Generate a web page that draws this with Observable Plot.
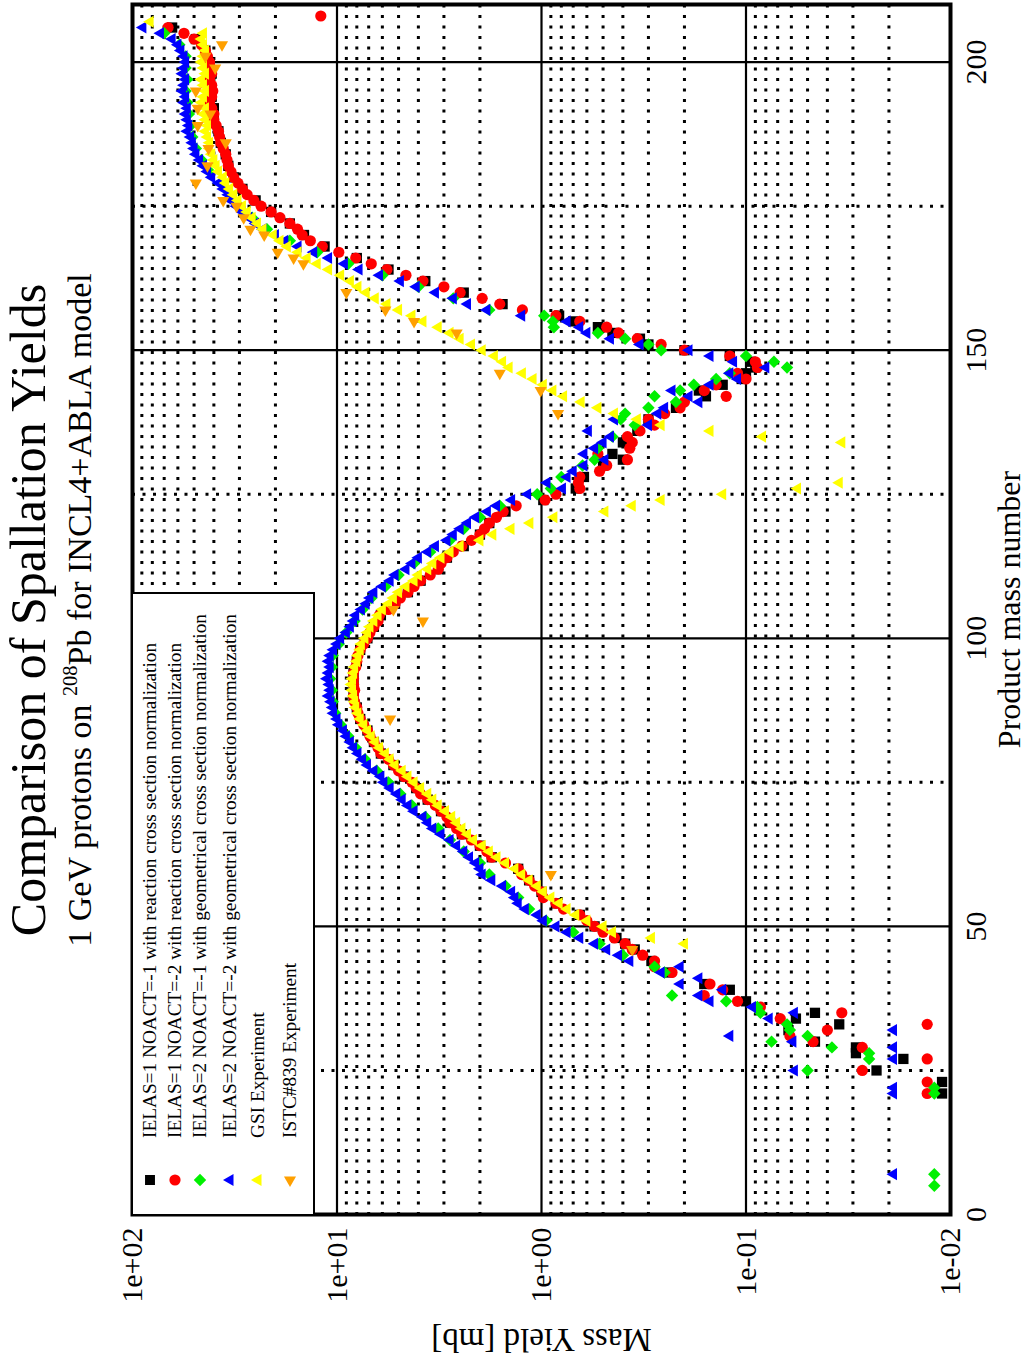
<!DOCTYPE html>
<html>
<head>
<meta charset="utf-8">
<script src="https://cdn.jsdelivr.net/npm/d3@7"></script>
<script src="https://cdn.jsdelivr.net/npm/@observablehq/plot@0.6"></script>
<style>
html, body { margin: 0; padding: 0; background: #fff; overflow: hidden; width: 1029px; height: 1359px; }
#land { position: absolute; left: 0; top: 0; width: 1359px; height: 1029px; transform-origin: 0 0;
  transform: translateY(1359px) rotate(-90deg); background: #fff;
  font-family: 'Liberation Serif', 'Times New Roman', serif; color: #000; }
#title { position: absolute; left: 144px; width: 1210px; top: 3px; text-align: center; font-size: 50px; line-height: 50px; white-space: nowrap; }
#subtitle { position: absolute; left: 144px; width: 1210px; top: 63px; text-align: center; font-size: 34px; line-height: 34px; white-space: nowrap; }
#subtitle sup { font-size: 0.6em; position: relative; top: -0.15em; vertical-align: top; line-height: 1; }
#chart { position: absolute; left: 0; top: 110px; width: 1359px; height: 919px; }
#legend { position: absolute; left: 143px; top: 131px; width: 624px; height: 184px; box-sizing: border-box; border: 2px solid #000; background: #fff; }
.lrow { position: absolute; left: 0; width: 600px; height: 20px; }
.lsym { position: absolute; left: 26px; top: -8px; width: 16px; height: 16px; }
.ltxt { position: absolute; left: 76px; top: -10px; font-size: 19.3px; line-height: 20px; white-space: nowrap; }
</style>
</head>
<body>
<div id="land">
  <div id="title">Comparison of Spallation Yields</div>
  <div id="subtitle">1 GeV protons on <sup>208</sup>Pb for INCL4+ABLA model</div>
  <div id="chart"></div>
  <div id="legend"></div>
</div>
<script>
// ---- axis / grid values ----
const massTicks = [0, 50, 100, 150, 200];
const massMajorGrid = [50, 100, 150, 200];
const massMinorGrid = [25, 75, 125, 175];
const yieldTicks = [0.01, 0.1, 1, 10, 100];
const yieldTickLabels = ["1e-02", "1e-01", "1e+00", "1e+01", "1e+02"];
const yieldMajorGrid = [0.1, 1, 10];
const yieldMinorGrid = [0.02, 0.03, 0.04, 0.05, 0.06, 0.07, 0.08, 0.09,
  0.2, 0.3, 0.4, 0.5, 0.6, 0.7, 0.8, 0.9, 2, 3, 4, 5, 6, 7, 8, 9,
  20, 30, 40, 50, 60, 70, 80, 90];
const xLabel = "Product mass number";
const yLabel = "Mass Yield [mb]";

// ---- series: [product mass number, mass yield in mb] ----
const ielas1noact1 = [[206,64],[204,49],[202,44],[200,42],[198,41],[196,42],[194,41],[192,40],[190,40],[188,38],[186,37],[184,35],[182,34],[180,32],[178,29],[176,25],[174,21],[172,17],[170,14.5],[168,11.5],[166,8],[164,5.6],[162,3.7],[160,2.4],[158,1.55],[156,0.82],[155,0.7],[154,0.53],[153,0.45],[152,0.33],[151,0.3],[150,0.2],[149,0.12],[148,0.095],[147,0.09],[146,0.1],
[145,0.105],[144,0.13],[143,0.17],[142,0.157],[140,0.22],[138,0.3],[136,0.34],[134,0.4],[132,0.45],[131,0.4],[130,0.5],[128,0.62],[126,0.68],[124,0.98],[122,1.5],[120,1.8],[118,2.0],[116,2.4],[114,2.9],[112,3.2],[110,3.9],[108,4.5],[106,5.2],[104,6.1],[102,6.6],[100,7.1],[98,7.7],[96,8.0],[94,8.3],[92,8.3],[90,8.3],[88,8.0],[86,7.7],[84,7.1],[82,6.6],[80,6.1],[78,5.3],[76,4.7],[74,4.1],[72,3.6],[70,3.1],[68,2.8],[66,2.45],[64,2.0],[62,1.75],[60,1.3],[58,1.15],[56,1.0],[54,0.85],[52,0.65],[50,0.55],[48,0.43],[47,0.39],[46,0.35],[44,0.29],[42,0.24],[40,0.16],[39,0.12],[37,0.1],[35,0.046],[34,0.057],[33,0.035],[32,0.062],[30,0.046],[29,0.029],[28,0.029],[27,0.017],[25,0.023],[23,0.011],[21,0.011]];

const ielas1noact2 = [[208,12],[206,67],[205,56],[204,50],[203,46],[202,44],[201,43],[200,42],[199,41.5],[198,41],[197,42],[196,41],[195,40.5],[194,41],[193,42],[192,41],[191,40],[190,40],[189,39],[188,38],[187,37.5],[186,37],[185,36],[184,35],[183,34.5],[182,34],[181,33],[180,32],[179,30.5],[178,29],[177,27.5],[176,25.5],[175,23.5],[174,21],[173,19],[172,17],[171,15.6],[170,14.8],[169,13.5],[168,11.8],[167,9.8],[166,8.1],[165,6.8],[164,5.7],[163,4.6],[162,3.8],[161,3.0],[160,2.5],[159,1.95],[158,1.6],[157,1.24],[156,0.85],[155,0.65],[154,0.48],[153,0.42],[152,0.34],[151,0.26],[150,0.2],[149,0.12],[148,0.09],[147,0.088],[146,0.11],[145,0.1],[144,0.14],[143,0.16],[142,0.125],[141,0.2],[140,0.21],[139,0.25],[138,0.3],[137,0.28],[136,0.33],[135,0.38],[134,0.36],[133,0.37],[132,0.53],[131,0.38],[130,0.48],[129,0.52],[128,0.65],[127,0.66],[126,0.65],[125,0.85],[124,0.96],[123,1.33],[122,1.54],[121,1.66],[120,1.8],[119,1.9],[118,2.0],[117,2.2],[116,2.45],[115,2.7],[114,2.9],[113,3.1],[112,3.2],[111,3.5],[110,3.9],[109,4.2],[108,4.5],[107,4.9],[106,5.2],[105,5.6],[104,6.2],[103,6.3],[102,6.6],[101,6.9],[100,7.1],[99,7.4],[98,7.7],[97,7.9],[96,8.0],[95,8.1],[94,8.3],[93,8.3],[92,8.3],[91,8.2],[90,8.3],[89,8.2],[88,8.0],[87,7.9],[86,7.7],[85,7.4],[84,7.1],[83,6.9],[82,6.6],[81,6.3],[80,6.1],[79,5.6],[78,5.3],[77,5.0],[76,4.7],[75,4.3],[74,4.1],[73,3.9],[72,3.6],[71,3.3],[70,3.1],[69,2.9],[68,2.8],[67,2.6],[66,2.45],[65,2.2],[64,2.0],[63,1.85],[62,1.75],[61,1.5],[60,1.3],[59,1.25],[58,1.15],[57,1.08],[56,1.0],[55,0.98],[54,0.85],[53,0.78],[52,0.65],[51,0.6],[50,0.55],[49,0.5],[48,0.44],[47,0.39],[46,0.36],[45,0.32],[44,0.28],[43,0.28],[42,0.23],[40,0.15],[39,0.13],[38,0.16],[37,0.11],[36,0.085],[35,0.034],[34,0.068],[33,0.013],[32,0.04],[31,0.061],[30,0.047],[29,0.027],[27,0.013],[25,0.027],[23,0.013],[21,0.013]];

const ielas2noact1 = [[205,70],[203,59],[201,55],[199,55],[197,54],[195,55],[193,54],[191,53],[189,52],[187,51],[185,49],[183,46],[181,42],[179,37],[177,33],[175,30],[173,26],[171,22],[169,17],[167,12.5],[165,8.8],[163,6.0],[161,4.0],[159,2.7],[157,1.8],[156,0.97],[155,0.88],[154,0.87],[153,0.53],[152,0.39],[151,0.3],[150,0.26],[149,0.1],[148,0.073],[147,0.063],[146,0.12],[145,0.14],[144,0.18],[143,0.21],[142,0.28],[141,0.22],[140,0.3],[139,0.39],[138,0.41],[137,0.35],[135,0.45],[133,0.53],[131,0.55],[130,0.63],[128,0.8],[126,0.9],[125,1.05],[123,1.6],[121,2.0],[119,2.4],[117,2.8],[115,3.5],[113,4.2],[111,5.0],[109,5.8],[107,6.8],[105,7.5],[103,8.2],[101,9.0],[99,9.8],[97,10.5],[95,10.6],[93,10.8],[91,10.6],[89,10.5],[87,10.2],[85,9.6],[83,8.8],[81,8.1],[79,7.3],[77,6.4],[75,5.6],[73,4.9],[71,4.3],[69,3.7],[67,3.2],[65,2.8],[63,2.4],[61,2.0],[59,1.8],[57,1.5],[55,1.3],[53,1.15],[51,0.95],[49,0.7],[47,0.52],[45,0.4],[43,0.28],[42,0.25],[38,0.23],[37,0.125],[36,0.088],[35,0.085],[33,0.063],[32,0.061],[31,0.05],[30,0.075],[29,0.038],[28,0.025],[27,0.025],[25,0.05],[22,0.012],[21,0.012],[7,0.012],[5,0.012]];

const ielas2noact2 = [[206,89],[205,73],[204,64],[203,60],[202,58],[201,56],[200,55],[199,56],[198,57],[197,55],[196,56],[195,57],[194,55],[193,56],[192,54],[191,55],[190,54],[189,53],[188,54],[187,52],[186,51],[185,50],[184,49],[183,47],[182,45],[181,43],[180,41],[179,38],[178,36],[177,34],[176,33],[175,31],[174,29],[173,27],[172,25],[171,23],[170,20],[169,18],[168,15.5],[167,13],[166,11],[165,9.2],[164,7.8],[163,6.2],[162,4.9],[161,4.1],[160,3.3],[159,2.7],[158,2.3],[157,1.85],[156,1.25],[155,0.75],[154,0.65],[153,0.6],[152,0.46],[151,0.33],[150,0.19],[149,0.15],[148,0.115],[147,0.08],[146,0.12],[145,0.11],[144,0.15],[143,0.23],[142,0.19],[141,0.17],[140,0.25],[139,0.27],[138,0.44],[137,0.3],[136,0.59],[135,0.46],[134,0.5],[133,0.55],[132,0.62],[131,0.49],[130,0.62],[129,0.7],[128,0.75],[127,0.94],[126,0.79],[125,1.17],[124,1.4],[123,1.66],[122,1.84],[121,2.1],[120,2.3],[119,2.5],[118,2.7],[117,2.9],[116,3.3],[115,3.6],[114,4.0],[113,4.3],[112,4.6],[111,5.2],[110,5.5],[109,6.0],[108,6.6],[107,6.9],[106,7.2],[105,7.6],[104,8.1],[103,8.3],[102,8.6],[101,9.0],[100,9.6],[99,10.0],[98,10.4],[97,10.8],[96,11.0],[95,10.8],[94,11.0],[93,11.2],[92,10.9],[91,10.8],[90,11.0],[89,10.7],[88,10.5],[87,10.4],[86,10.0],[85,9.8],[84,9.3],[83,9.0],[82,8.6],[81,8.3],[80,7.9],[79,7.5],[78,7.1],[77,6.6],[76,6.1],[75,5.9],[74,5.5],[73,5.1],[72,4.8],[71,4.5],[70,4.2],[69,3.8],[68,3.6],[67,3.4],[66,3.1],[65,2.8],[64,2.6],[63,2.4],[62,2.25],[61,2.1],[60,2.0],[59,1.95],[58,1.75],[57,1.55],[56,1.4],[55,1.35],[54,1.3],[53,1.2],[52,1.05],[51,0.98],[50,0.85],[49,0.75],[48,0.65],[47,0.55],[46,0.48],[45,0.42],[44,0.37],[43,0.21],[42,0.26],[41,0.17],[40,0.21],[39,0.13],[38,0.17],[37,0.15],[36,0.093],[35,0.058],[34,0.077],[32,0.019],[31,0.12],[30,0.059],[29,0.019],[27,0.019],[25,0.058],[22,0.019],[21,0.019],[7,0.019]];

const gsiExperiment = [[207,82],[205,45],[204,46],[203,45],[202,44],[201,45],[200,46],[199,45],[198,44],[197,46],[196,45],[195,44],[194,45],[193,46],[192,44],[191,45],[190,44],[189,43],[188,44],[187,43],[186,42],[185,42],[184,41],[183,40],[182,39],[181,38],[180,36],[179,35],[178,33.5],[177,32],[176,30.5],[175,29],[174,27.5],[173,26],[172,24.5],[171,23],[170,20.5],[169,19],[168,17.5],[167,15.5],[166,14],[165,12.5],[164,11],[163,9.6],[162,8.6],[161,7.9],[160,7.2],[159,6.5],[158,5.7],[157,5.0],[156,4.3],[155,3.8],[154,3.2],[153,2.8],[152,2.5],[151,2.2],[150,1.95],[149,1.7],[148,1.55],[147,1.44],[146,1.24],[145,1.1],[144,0.98],[143,0.88],[142,0.78],[141,0.64],[140,0.53],[139,0.44],[138,0.34],[137,0.26],[136,0.15],[135,0.083],[134,0.034],
[127,0.035],[126,0.056],[125,0.13],[124,0.26],[123,0.36],[122,0.49],[121,0.87],[120,1.14],[119,1.41],[118,1.73],[117,2.0],[116,2.5],[115,2.8],[114,3.1],[113,3.4],[112,3.6],[111,4.0],[110,4.2],[109,4.6],[108,5.0],[107,5.3],[106,5.6],[105,6.0],[104,6.3],[103,6.6],[102,6.9],[101,7.1],[100,7.3],[99,7.6],[98,7.7],[97,7.9],[96,8.0],[95,8.2],[94,8.3],[93,8.4],[92,8.5],[91,8.4],[90,8.3],[89,8.2],[88,8.1],[87,7.9],[86,7.7],[85,7.4],[84,7.1],[83,6.8],[82,6.5],[81,6.2],[80,5.8],[79,5.5],[78,5.2],[77,4.8],[76,4.5],[75,4.2],[74,3.9],[73,3.6],[72,3.4],[71,3.2],[70,2.95],[69,2.75],[68,2.6],[67,2.45],[66,2.3],[65,2.15],[64,1.95],[63,1.8],[62,1.65],[61,1.5],[60,1.35],[59,1.25],[58,1.15],[57,1.05],[56,0.98],[55,0.9],[54,0.82],[53,0.75],[52,0.68],[51,0.6],[50,0.5],[49,0.45],[48,0.29],[47,0.2]];

const istcExperiment = [[203,36.5],[201,44],[199,39.4],[195,49],[192,48],[191,41.6],[189,48],[186,35],[185,42.5],[182,43],[179,49],[176,36],[175,31],[173,28.6],[171,26.5],[170,22.7],[167,19.5],[166,16.3],[165,14.6],[160,9],[157,5.8],[155,4.2],[153,2.6],[146,1.6],[143,1.01],[139,0.83],[105,5.3],[103,3.8],[86,5.5],[59,0.9],[46,0.36]];

const seriesNames = [
  "IELAS=1 NOACT=-1 with reaction cross section normalization",
  "IELAS=1 NOACT=-2 with reaction cross section normalization",
  "IELAS=2 NOACT=-1 with geometrical cross section normalization",
  "IELAS=2 NOACT=-2 with geometrical cross section normalization",
  "GSI Experiment",
  "ISTC#839 Experiment"
];
const seriesColors = ["#000000", "#ff0000", "#00f000", "#0000ff", "#ffff00", "#ffa000"];

// custom symbols (landscape orientation; the whole figure is turned a quarter turn)
const triUp = { draw(ctx, size) { const R = Math.sqrt(size / Math.PI) * 1.25;
  ctx.moveTo(0, -R); ctx.lineTo(R * 0.866, R * 0.5); ctx.lineTo(-R * 0.866, R * 0.5); ctx.closePath(); } };
const triLeft = { draw(ctx, size) { const R = Math.sqrt(size / Math.PI) * 1.25;
  ctx.moveTo(-R, 0); ctx.lineTo(R * 0.5, -R * 0.866); ctx.lineTo(R * 0.5, R * 0.866); ctx.closePath(); } };
const seriesSymbols = ["square", "circle", "diamond2", triUp, triUp, triLeft];
const seriesData = [ielas1noact1, ielas1noact2, ielas2noact1, ielas2noact2, gsiExperiment, istcExperiment];

const labelFor = new Map(yieldTicks.map((v, i) => [v, yieldTickLabels[i]]));

const plot = Plot.plot({
  width: 1359,
  height: 919,
  marginLeft: 144,
  marginRight: 5,
  marginTop: 22,
  marginBottom: 79,
  style: { fontFamily: "'Liberation Serif', 'Times New Roman', serif", fontSize: "30px", color: "#000", background: "transparent" },
  x: { domain: [0, 210], ticks: massTicks, tickSize: 0, tickPadding: 14, label: xLabel, labelAnchor: "center", labelArrow: "none", labelOffset: 69 },
  y: { type: "log", domain: [0.01, 100], ticks: yieldTicks, tickFormat: d => labelFor.get(d), tickSize: 0, tickPadding: 13,
       label: yLabel, labelAnchor: "center", labelArrow: "none", labelOffset: 138 },
  marks: [
    Plot.ruleY(yieldMinorGrid, { stroke: "#000", strokeWidth: 3, strokeDasharray: "3,7.5" }),
    Plot.ruleX(massMinorGrid, { stroke: "#000", strokeWidth: 3, strokeDasharray: "3,7.5" }),
    Plot.ruleY(yieldMajorGrid, { stroke: "#000", strokeWidth: 2.2 }),
    Plot.ruleX(massMajorGrid, { stroke: "#000", strokeWidth: 2.2 }),
    ...seriesData.map((data, i) => Plot.dot(data, {
      x: d => d[0], y: d => d[1], symbol: seriesSymbols[i], fill: seriesColors[i], stroke: "none",
      r: i === 0 ? 5.8 : 5.6
    })),
    Plot.frame({ stroke: "#000", strokeWidth: 4 })
  ]
});
document.getElementById("chart").appendChild(plot);
// remove any direction arrows from the axis labels and set their size
plot.querySelectorAll("text").forEach(t => {
  const s = t.textContent;
  if (s.includes(xLabel)) { t.textContent = xLabel; t.setAttribute("font-size", "32"); }
  else if (s.includes(yLabel)) { t.textContent = yLabel; t.setAttribute("font-size", "33"); }
});

// legend (drawn in the same landscape frame)
const legendRows = [19, 44, 69, 99, 127, 159];
const legend = document.getElementById("legend");
seriesNames.forEach((name, i) => {
  const row = document.createElement("div");
  row.className = "lrow";
  row.style.top = (legendRows[i] - 2) + "px";
  const sym = d3.create("svg").attr("class", "lsym").attr("width", 16).attr("height", 16).attr("viewBox", "-8 -8 16 16");
  const symType = typeof seriesSymbols[i] === "string"
    ? { square: d3.symbolSquare, circle: d3.symbolCircle, diamond2: d3.symbolDiamond2 }[seriesSymbols[i]]
    : seriesSymbols[i];
  sym.append("path").attr("d", d3.symbol(symType, Math.PI * 5.6 * 5.6)()).attr("fill", seriesColors[i]);
  row.appendChild(sym.node());
  const txt = document.createElement("div");
  txt.className = "ltxt";
  txt.textContent = name;
  row.appendChild(txt);
  legend.appendChild(row);
});
</script>
</body>
</html>
